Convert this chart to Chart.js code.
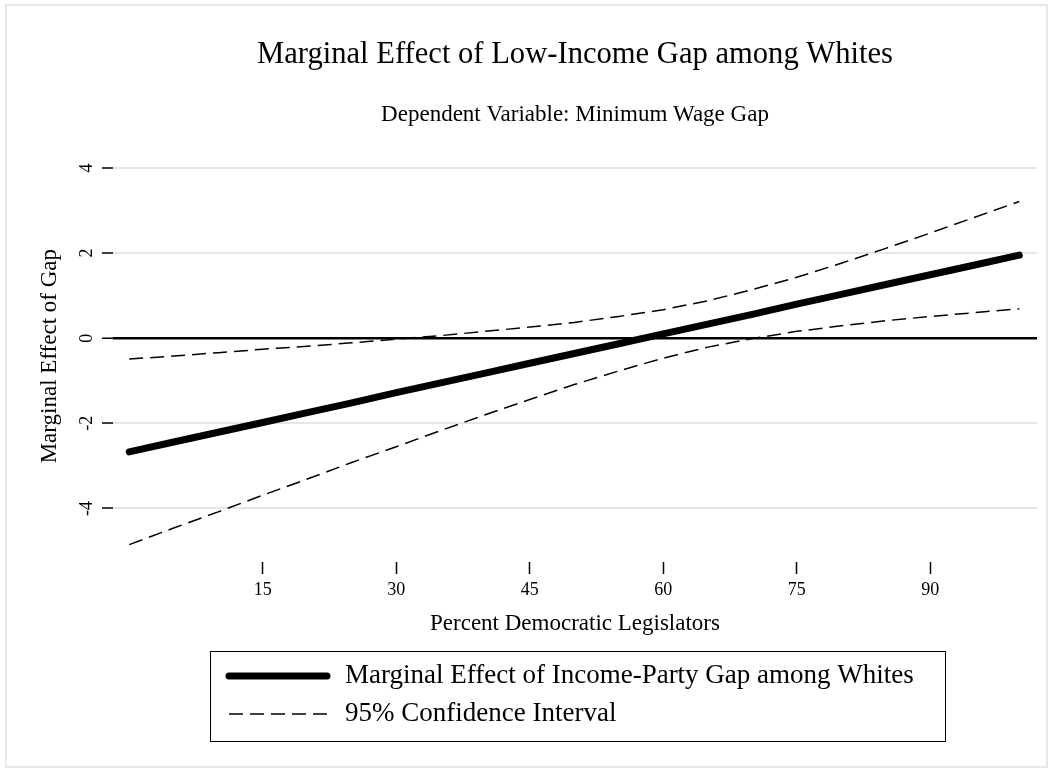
<!DOCTYPE html>
<html>
<head>
<meta charset="utf-8">
<title>Marginal Effect of Low-Income Gap among Whites</title>
<script src="https://cdn.jsdelivr.net/npm/chart.js@4.4.1/dist/chart.umd.min.js"></script>
<style>
  html, body { margin: 0; padding: 0; background: #ffffff; }
  canvas { display: block; }
</style>
</head>
<body>
<canvas id="chart" width="1053" height="773"></canvas>
<script>
// Percent Democratic legislators (x) and the estimated marginal effect with its 95% CI
const percentDem     = [0, 5, 10, 15, 20, 25, 30, 35, 40, 45, 50, 55, 60, 65, 70, 75, 80, 85, 90, 95, 100];
const marginalEffect = [-2.67, -2.44, -2.21, -1.98, -1.75, -1.52, -1.28, -1.05, -0.82, -0.59, -0.36, -0.13, 0.10, 0.33, 0.56, 0.80, 1.03, 1.26, 1.49, 1.72, 1.95];
const ciUpper        = [-0.49, -0.42, -0.34, -0.26, -0.19, -0.11, -0.02, 0.06, 0.16, 0.26, 0.37, 0.51, 0.67, 0.88, 1.14, 1.43, 1.76, 2.11, 2.47, 2.84, 3.21];
const ciLower        = [-4.85, -4.46, -4.08, -3.69, -3.31, -2.92, -2.55, -2.17, -1.80, -1.44, -1.09, -0.77, -0.47, -0.21, -0.01, 0.16, 0.29, 0.41, 0.51, 0.60, 0.69];

const xTicks = [15, 30, 45, 60, 75, 90];
const yTicks = [-4, -2, 0, 2, 4];

const SERIF = "'Liberation Serif', 'Times New Roman', Times, serif";
Chart.defaults.font.family = SERIF;
Chart.defaults.color = '#000';

const toPoints = (ys) => percentDem.map((x, i) => ({ x: x, y: ys[i] }));

// White graph background with the light outer frame
const graphFrame = {
  id: 'graphFrame',
  beforeDraw(chart) {
    const ctx = chart.ctx;
    ctx.save();
    ctx.fillStyle = '#ffffff';
    ctx.fillRect(0, 0, chart.width, chart.height);
    ctx.strokeStyle = '#e8e8e8';
    ctx.lineWidth = 2;
    ctx.strokeRect(6, 5, 1041, 762);
    ctx.restore();
  }
};

// Boxed legend stacked in one column under the x-axis title
const boxedLegend = {
  id: 'boxedLegend',
  afterDraw(chart) {
    const ctx = chart.ctx;
    const ds = chart.data.datasets;
    ctx.save();
    ctx.strokeStyle = '#000';
    ctx.lineWidth = 1;
    ctx.setLineDash([]);
    ctx.strokeRect(210.5, 651.5, 735, 90);
    const rows = [{ d: ds[0], y: 676 }, { d: ds[1], y: 714 }];
    rows.forEach((r) => {
      ctx.beginPath();
      ctx.strokeStyle = r.d.borderColor;
      ctx.lineWidth = r.d.borderWidth;
      ctx.lineCap = r.d.borderCapStyle || 'butt';
      ctx.setLineDash(r.d.borderDash || []);
      ctx.moveTo(229, r.y);
      ctx.lineTo(327, r.y);
      ctx.stroke();
      ctx.setLineDash([]);
      ctx.fillStyle = '#000';
      ctx.font = '27px ' + SERIF;
      ctx.textAlign = 'left';
      ctx.textBaseline = 'middle';
      ctx.fillText(r.d.label, 345, r.y);
    });
    ctx.restore();
  }
};

new Chart(document.getElementById('chart'), {
  type: 'line',
  data: {
    datasets: [
      {
        label: 'Marginal Effect of Income-Party Gap among Whites',
        data: toPoints(marginalEffect),
        borderColor: '#000',
        borderWidth: 7,
        borderCapStyle: 'round',
        borderJoinStyle: 'round',
        pointRadius: 0,
        tension: 0
      },
      {
        label: '95% Confidence Interval',
        data: toPoints(ciUpper),
        borderColor: '#000',
        borderWidth: 1.5,
        borderDash: [14, 7],
        pointRadius: 0,
        tension: 0
      },
      {
        label: '95% Confidence Interval (lower bound)',
        data: toPoints(ciLower),
        borderColor: '#000',
        borderWidth: 1.5,
        borderDash: [14, 7],
        pointRadius: 0,
        tension: 0
      }
    ]
  },
  options: {
    responsive: false,
    animation: false,
    devicePixelRatio: 1,
    layout: { padding: { left: 0, right: 16, top: 0, bottom: 111 } },
    plugins: {
      legend: { display: false },
      tooltip: { enabled: false },
      title: {
        display: true,
        text: 'Marginal Effect of Low-Income Gap among Whites',
        fullSize: false,
        color: '#000',
        font: { size: 30.6, weight: 'normal', lineHeight: 1.2 },
        padding: { top: 36.6, bottom: 0 }
      },
      subtitle: {
        display: true,
        text: 'Dependent Variable: Minimum Wage Gap',
        fullSize: false,
        color: '#000',
        font: { size: 23, weight: 'normal', lineHeight: 1.2 },
        padding: { top: 28, bottom: 21.4 }
      }
    },
    scales: {
      x: {
        type: 'linear',
        min: -1.82,
        max: 101.99,
        afterBuildTicks: (scale) => { scale.ticks = xTicks.map((v) => ({ value: v })); },
        afterFit: (scale) => { scale.height = 100; },
        grid: { drawOnChartArea: false, tickLength: 12, tickColor: '#000', tickWidth: 1.5 },
        border: { display: false },
        ticks: {
          color: '#000',
          font: { size: 18 },
          padding: 5,
          maxRotation: 0,
          autoSkip: false,
          callback: (v) => String(v)
        },
        title: {
          display: true,
          text: 'Percent Democratic Legislators',
          color: '#000',
          font: { size: 23 },
          padding: { top: 0, bottom: 24 }
        }
      },
      y: {
        type: 'linear',
        min: -5.258,
        max: 4.413,
        afterBuildTicks: (scale) => { scale.ticks = yTicks.map((v) => ({ value: v })); },
        afterFit: (scale) => { scale.width = 113; },
        grid: {
          color: (c) => (c.tick && c.tick.value === 0 ? '#000' : '#e6e6e6'),
          lineWidth: (c) => (c.tick && c.tick.value === 0 ? 2.5 : 2),
          tickLength: 11,
          tickColor: '#000',
          tickWidth: 1.5
        },
        border: { display: false },
        ticks: {
          color: '#000',
          font: { size: 18 },
          padding: 7.5,
          minRotation: 90,
          maxRotation: 90,
          crossAlign: 'center',
          autoSkip: false,
          callback: (v) => String(v)
        },
        title: {
          display: true,
          text: 'Marginal Effect of Gap',
          color: '#000',
          font: { size: 23 },
          padding: { top: 36, bottom: 0 }
        }
      }
    }
  },
  plugins: [graphFrame, boxedLegend]
});
</script>
</body>
</html>
